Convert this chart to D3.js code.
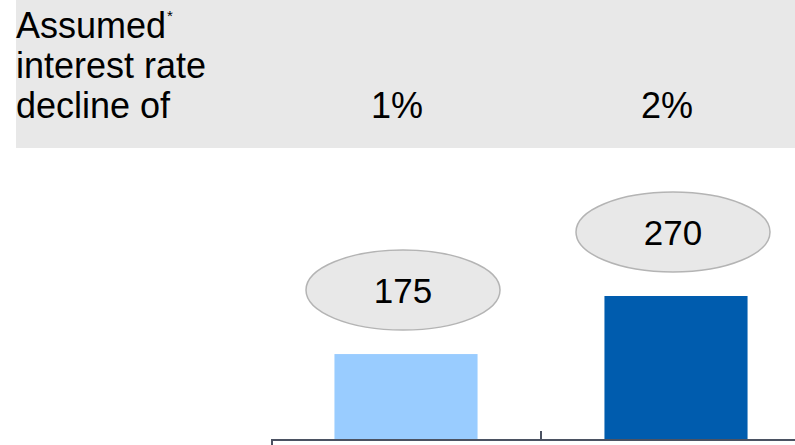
<!doctype html>
<html>
<head>
<script src="https://d3js.org/d3.v7.min.js"></script>
<style>
  body { margin: 0; background: #fff; }
  svg { display: block; font-family: "Liberation Sans", Arial, Helvetica, sans-serif; }
</style>
</head>
<body>
<svg id="chart" width="795" height="445"></svg>
<script>
    // data
    var categories = ["1%", "2%"];
    var values = [175, 270];
    var barColors = ["#99ccff", "#005cae"];
    var headerLines = ["Assumed", "interest rate", "decline of"];

    var width = 795, height = 445;
    var baseline = 439;

    var svg = d3.select("#chart");

    var x = d3.scaleBand()
        .domain(categories)
        .range([271, 811])
        .paddingInner(0.47)
        .paddingOuter(0.235);

    // zero sits below the visible baseline in the original
    var y = d3.scaleLinear()
        .domain([0, 270])
        .range([461, 296]);

    // header band
    svg.append("rect")
        .attr("x", 16).attr("y", 0)
        .attr("width", width - 16).attr("height", 148)
        .style("fill", "#e8e8e8");

    var head = svg.append("text")
        .attr("x", 16)
        .style("font-size", "36px")
        .style("fill", "#000");
    headerLines.forEach(function (t, i) {
        head.append("tspan")
            .attr("x", 16)
            .attr("y", 38 + i * 40)
            .text(t);
    });
    svg.append("text")
        .attr("x", 167).attr("y", 21)
        .style("font-size", "15px")
        .text("*");

    svg.selectAll(".colLabel")
        .data(categories)
        .enter().append("text")
        .attr("class", "colLabel")
        .attr("x", function (d) { return x(d) + x.bandwidth() / 2 - 9; })
        .attr("y", 118)
        .attr("text-anchor", "middle")
        .style("font-size", "36px")
        .text(function (d) { return d; });

    // bars
    svg.selectAll(".bar")
        .data(values)
        .enter().append("rect")
        .attr("class", "bar")
        .attr("x", function (d, i) { return x(categories[i]); })
        .attr("y", function (d) { return y(d); })
        .attr("width", x.bandwidth())
        .attr("height", function (d) { return baseline - y(d); })
        .style("fill", function (d, i) { return barColors[i]; });

    // value bubbles
    var bub = svg.selectAll(".bubble")
        .data(values)
        .enter().append("g")
        .attr("class", "bubble")
        .attr("transform", function (d, i) {
            return "translate(" + (x(categories[i]) + x.bandwidth() / 2 - 3) + "," + (y(d) - 64) + ")";
        });
    bub.append("ellipse")
        .attr("rx", 97).attr("ry", 40)
        .style("fill", "#e8e8e8")
        .style("stroke", "#b4b4b4")
        .style("stroke-width", 1.5);
    bub.append("text")
        .attr("text-anchor", "middle")
        .attr("y", 13)
        .style("font-size", "35px")
        .text(function (d) { return d; });

    // axis
    var axisColor = "#4b5262";
    svg.append("line")
        .attr("x1", x.range()[0]).attr("x2", width)
        .attr("y1", baseline + 1).attr("y2", baseline + 1)
        .style("stroke", axisColor).style("stroke-width", 2);
    svg.append("line")
        .attr("x1", x.range()[0] + 1).attr("x2", x.range()[0] + 1)
        .attr("y1", baseline).attr("y2", height)
        .style("stroke", axisColor).style("stroke-width", 2);
    svg.append("line")
        .attr("x1", x.range()[0] + x.step()).attr("x2", x.range()[0] + x.step())
        .attr("y1", baseline - 8).attr("y2", baseline)
        .style("stroke", axisColor).style("stroke-width", 2);
</script>
</body>
</html>
